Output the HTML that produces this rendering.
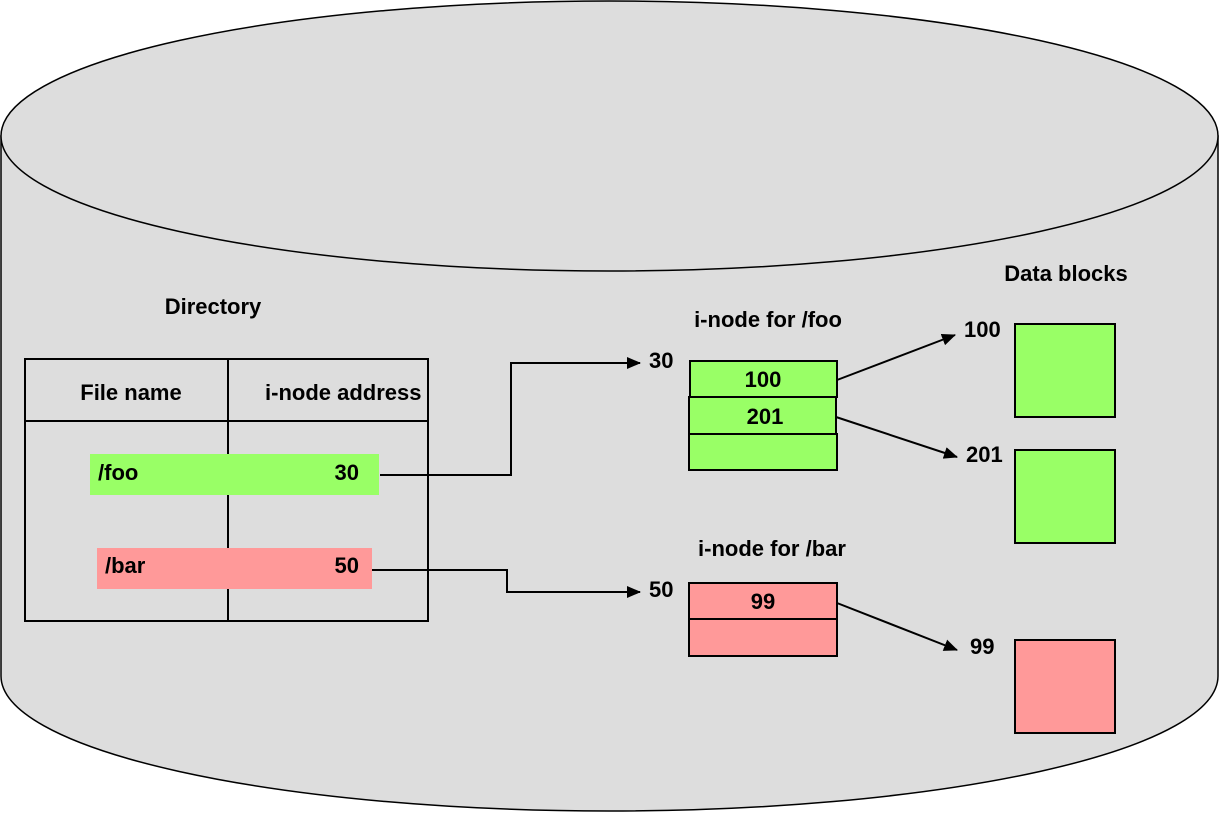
<!DOCTYPE html>
<html><head><meta charset="utf-8"><style>
html,body{margin:0;padding:0;background:#fff}
svg{display:block}
text{font-family:"Liberation Sans",Arial,sans-serif;font-weight:bold;font-size:22px;fill:#000}
</style></head><body>
<svg width="1219" height="813" viewBox="0 0 1219 813" xmlns="http://www.w3.org/2000/svg">
<defs><marker id="a" markerWidth="14" markerHeight="12" refX="13" refY="6" orient="auto" markerUnits="userSpaceOnUse"><path d="M0,0 L14,6 L0,12 z" fill="#000"/></marker></defs>
<path d="M1,136 L1,676 A608.5,135 0 0 0 1218,676 L1218,136 Z" fill="#dddddd" stroke="#000" stroke-width="1.5"/>
<ellipse cx="609.5" cy="136" rx="608.5" ry="135" fill="#dddddd" stroke="#000" stroke-width="1.5"/>
<text x="213" y="314" text-anchor="middle">Directory</text>
<rect x="25" y="359" width="403" height="262" fill="none" stroke="#000" stroke-width="2"/>
<line x1="228" y1="359" x2="228" y2="621" stroke="#000" stroke-width="2"/>
<line x1="25" y1="421" x2="428" y2="421" stroke="#000" stroke-width="2"/>
<text x="131" y="400" text-anchor="middle">File name</text>
<text x="265" y="400">i-node address</text>
<rect x="90" y="454" width="289" height="41" fill="#99ff66"/>
<text x="98" y="480">/foo</text><text x="359" y="480" text-anchor="end">30</text>
<rect x="97" y="548" width="275" height="41" fill="#ff9999"/>
<text x="105" y="573">/bar</text><text x="359" y="573" text-anchor="end">50</text>
<polyline points="380,475 511,475 511,363 640,363" fill="none" stroke="#000" stroke-width="2" marker-end="url(#a)"/>
<polyline points="372,570 507,570 507,592 640,592" fill="none" stroke="#000" stroke-width="2" marker-end="url(#a)"/>
<text x="649" y="368">30</text><text x="649" y="597">50</text>
<text x="768" y="327" text-anchor="middle">i-node for /foo</text>
<text x="772" y="556" text-anchor="middle">i-node for /bar</text>
<g stroke="#000" stroke-width="2" fill="#99ff66">
<rect x="690" y="361" width="147" height="36"/>
<rect x="689" y="397" width="147" height="37"/>
<rect x="689" y="434" width="148" height="36"/>
</g>
<g stroke="#000" stroke-width="2" fill="#ff9999">
<rect x="689" y="583" width="148" height="36"/>
<rect x="689" y="619" width="148" height="37"/>
</g>
<text x="763" y="387" text-anchor="middle">100</text>
<text x="765" y="424" text-anchor="middle">201</text>
<text x="763" y="609" text-anchor="middle">99</text>
<line x1="837" y1="380" x2="955" y2="335" stroke="#000" stroke-width="2" marker-end="url(#a)"/>
<line x1="836" y1="417" x2="957" y2="457" stroke="#000" stroke-width="2" marker-end="url(#a)"/>
<line x1="837" y1="603" x2="957" y2="650" stroke="#000" stroke-width="2" marker-end="url(#a)"/>
<text x="1066" y="281" text-anchor="middle">Data blocks</text>
<text x="964" y="337">100</text><text x="966" y="462">201</text><text x="970" y="654">99</text>
<rect x="1015" y="324" width="100" height="93" fill="#99ff66" stroke="#000" stroke-width="2"/>
<rect x="1015" y="450" width="100" height="93" fill="#99ff66" stroke="#000" stroke-width="2"/>
<rect x="1015" y="640" width="100" height="93" fill="#ff9999" stroke="#000" stroke-width="2"/>
</svg>
</body></html>
